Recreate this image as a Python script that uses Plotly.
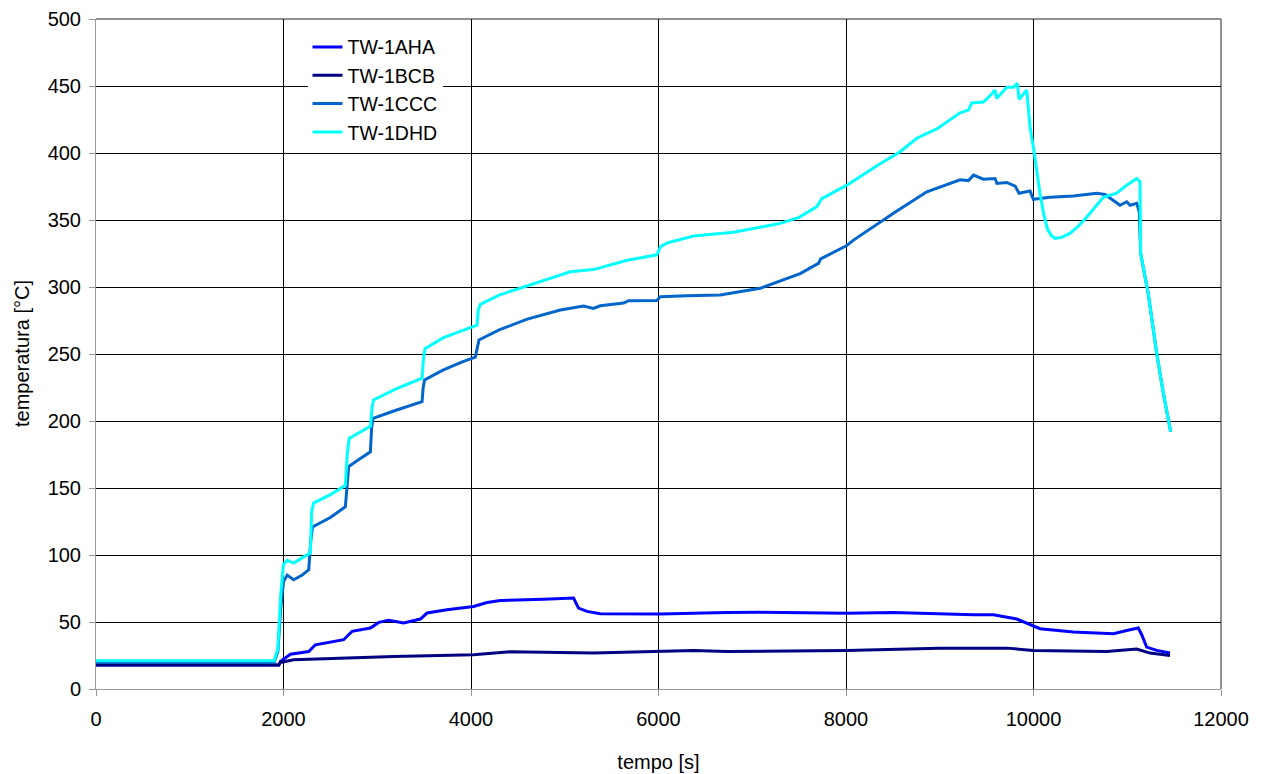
import plotly.graph_objects as go

# Thermocouple readings, time in seconds, temperature in °C
aha_t = [0, 500, 1000, 1500, 1900, 1950, 1967, 2074, 2269, 2340, 2642, 2731, 2927, 3016, 3122,
         3282, 3460, 3531, 3744, 4028, 4171, 4313, 4775, 5094, 5147, 5237, 5379, 6018, 6729, 7085,
         8009, 8506, 9359, 9572, 9822, 9928, 10070, 10425, 10852, 10994, 11118, 11154, 11207,
         11314, 11456]
aha_v = [18, 18, 18, 18, 18, 18, 20.6, 26, 28, 33, 36.8, 43, 45.5, 49.7, 51.2,
         49.2, 52.2, 56.7, 59.1, 61.6, 64.6, 66, 67, 67.9, 60.4, 57.9, 56.1, 56, 57.1, 57.2,
         56.6, 57, 55.4, 55.4, 52.2, 49.2, 45, 42.5, 41.2, 43.7, 45.5, 40.5, 31.3,
         28.8, 26.8]

bcb_t = [0, 500, 1000, 1500, 1950, 1967, 2109, 3175, 4028, 4419, 5307, 6374, 6730, 8009, 8996,
         9715, 9998, 10781, 11101, 11243, 11456]
bcb_v = [18, 18, 18, 18, 18, 19.8, 21.8, 24.3, 25.6, 27.8, 26.8, 28.8, 28, 28.8, 30.5,
         30.5, 28.8, 28, 29.8, 26.8, 25]

ccc_t = [0, 500, 1000, 1500, 1900, 1940, 1970, 2000, 2039, 2109, 2200, 2269, 2290, 2310, 2500,
         2660, 2680, 2695, 2800, 2927, 2940, 2955, 3200, 3478, 3490, 3505, 3700, 3900, 4046,
         4065, 4085, 4300, 4600, 4953, 5201, 5305, 5379, 5628, 5681, 5983, 6020, 6300, 6658,
         7085, 7511, 7706, 7730, 8009, 8080, 8506, 8862, 9217, 9306, 9360, 9466, 9590, 9610,
         9715, 9804, 9846, 9963, 9998, 10176, 10425, 10674, 10763, 10923, 10994, 11030, 11101,
         11129, 11143, 11224, 11314, 11385, 11463]
ccc_v = [20, 20, 20, 20, 20, 28, 60, 80, 85, 81.5, 85, 89, 110, 121, 128,
         136, 150, 166, 171, 177, 195, 202, 208, 214.5, 225, 230.6, 238, 244, 247.6,
         255, 260.5, 268, 276, 282.8, 285.8, 284, 286, 288, 289.8, 290, 292.7, 293.5, 294,
         299, 310, 317.6, 321, 331, 335, 355, 371, 380, 379.4, 383.5, 380.5, 381, 377.3,
         378, 375.3, 370, 371.6, 365.4, 367, 368, 370, 369, 361, 363.6, 361, 362.4,
         356, 325, 295, 250.5, 220.7, 192]

dhd_t = [0, 500, 1000, 1500, 1900, 1940, 1970, 2000, 2040, 2109, 2200, 2287, 2300, 2320, 2500,
         2660, 2680, 2700, 2800, 2927, 2945, 2960, 3200, 3478, 3495, 3510, 3700, 3900, 4064,
         4078, 4100, 4300, 4600, 4953, 5059, 5305, 5667, 5983, 6020, 6100, 6374, 6800, 7298,
         7500, 7689, 7742, 8009, 8364, 8577, 8755, 8968, 9217, 9306, 9342, 9466, 9555, 9590,
         9608, 9715, 9786, 9828, 9846, 9928, 9963, 9998, 10069, 10110, 10150, 10190, 10229,
         10300, 10389, 10480, 10567, 10660, 10745, 10887, 10994, 11101, 11136, 11143, 11224,
         11314, 11385, 11463]
dhd_v = [21, 21, 21, 21, 21, 30, 70, 93, 96, 94, 98, 101.6, 132, 138.7, 145,
         152, 175, 187, 191, 196, 210, 215.7, 224, 232, 248, 254, 262, 267, 271.6,
         283, 287, 294, 301, 309, 311.4, 313, 320, 324, 330, 333, 338, 340.8, 347.5,
         352, 360, 366, 376, 392, 401, 411, 418, 430, 432, 437.4, 438, 444, 447,
         440.7, 449, 449, 452, 440, 447, 419.5, 404.6, 370, 354, 343, 338.5, 336.3,
         337, 340, 345.5, 352, 360, 367, 370, 376, 381, 378.5, 325, 295,
         250.5, 220.7, 192]

x_ticks = [0, 2000, 4000, 6000, 8000, 10000, 12000]
x_tick_text = ["0", "2000", "4000", "6000", "8000", "10000", "12000"]
y_ticks = [0, 50, 100, 150, 200, 250, 300, 350, 400, 450, 500]

series = [
    ("TW-1AHA", aha_t, aha_v, "#0000FF"),
    ("TW-1BCB", bcb_t, bcb_v, "#000080"),
    ("TW-1CCC", ccc_t, ccc_v, "#0066CC"),
    ("TW-1DHD", dhd_t, dhd_v, "#00FFFF"),
]

FONT = "Liberation Sans, Arial, sans-serif"
TXT = 20

fig = go.Figure()
for name, t, v, color in series:
    fig.add_trace(go.Scatter(x=t, y=v, name=name, mode="lines",
                             line=dict(color=color, width=3)))

axis_common = dict(
    showgrid=True, gridcolor="#000000", gridwidth=1,
    showline=True, linecolor="#999999", linewidth=1,
    ticks="outside", ticklen=6, tickcolor="#999999",
    tickfont=dict(family=FONT, size=TXT, color="#000000"),
    zeroline=False, automargin=False,
)

fig.update_xaxes(range=[0, 12000], tickvals=x_ticks, ticktext=x_tick_text,
                 ticklabelstandoff=6,
                 title=dict(text="tempo [s]", font=dict(family=FONT, size=TXT, color="#000000"),
                            standoff=25),
                 **axis_common)
fig.update_yaxes(range=[0, 500], tickvals=y_ticks, ticklabelstandoff=4, **axis_common)

# vertical axis title placed near the left edge
fig.add_annotation(text="temperatura [°C]", xref="paper", yref="paper", x=0, y=0.5,
                   xanchor="center", yanchor="middle", xshift=-74, textangle=-90,
                   showarrow=False, font=dict(family=FONT, size=TXT, color="#000000"))

# top and right frame edges
fig.add_shape(type="line", xref="paper", yref="paper", x0=0, x1=1, y0=1, y1=1,
              line=dict(color="#222222", width=1))
fig.add_shape(type="line", xref="paper", yref="paper", x0=1, x1=1, y0=0, y1=1,
              line=dict(color="#222222", width=1))

fig.update_layout(
    width=1263, height=774,
    margin=dict(l=96, r=42, t=19, b=85),
    paper_bgcolor="#FFFFFF", plot_bgcolor="#FFFFFF",
    font=dict(family=FONT, size=TXT, color="#000000"),
    legend=dict(x=0.188, y=0.987, xanchor="left", yanchor="top",
                bgcolor="#FFFFFF", borderwidth=0,
                font=dict(family=FONT, size=19.5, color="#000000"),
                tracegroupgap=0, itemwidth=30),
    showlegend=True,
)

fig.write_html("out.html")
